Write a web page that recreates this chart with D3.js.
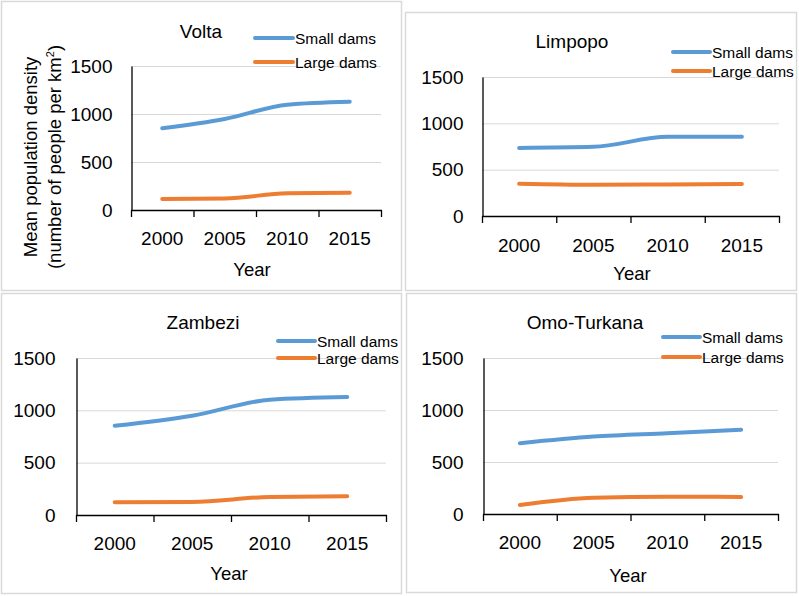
<!DOCTYPE html>
<html>
<head>
<meta charset="utf-8">
<script src="https://cdn.jsdelivr.net/npm/d3@7"></script>
<style>
  html, body { margin: 0; padding: 0; background: #fff; }
  svg { display: block; font-family: "Liberation Sans", Arial, sans-serif; }
</style>
</head>
<body>
<svg id="chart" width="799" height="596"></svg>
<script>
// ---- data ----
const years = ["2000", "2005", "2010", "2015"];
const yTicks = [0, 500, 1000, 1500];
const seriesNames = ["Small dams", "Large dams"];
const basinNames = ["Volta", "Limpopo", "Zambezi", "Omo-Turkana"];
const voltaSmall = [851, 948, 1097, 1128];
const voltaLarge = [115, 120, 174, 180];
const limpopoSmall = [735, 746, 854, 854];
const limpopoLarge = [348, 337, 340, 344];
const zambeziSmall = [852, 948, 1101, 1127];
const zambeziLarge = [121, 124, 172, 179];
const omoSmall = [681, 745, 777, 809];
const omoLarge = [87, 157, 167, 164];
const xTitle = "Year";
const yTitleLines = ["Mean population density", "(number of people per km", "2", ")"];

// ---- layout / style ----
const colors = ["#5B9BD5", "#ED7D31"];
const panels = [
  { name: basinNames[0], small: voltaSmall, large: voltaLarge,
    frame: [1.5, 1.5, 400, 289], ax: 131, ar: 381, top: 66, bottom: 210,
    title: [201, 31], leg: [255, 293, 295, 38, 62], yLabGap: 19, xLabY: 238, yearPos: [252, 269], yTitle: true },
  { name: basinNames[1], small: limpopoSmall, large: limpopoLarge,
    frame: [405.5, 12.5, 391, 278], ax: 482, ar: 779, top: 77, bottom: 216,
    title: [572, 41], leg: [673, 710, 712, 52, 71], yLabGap: 19, xLabY: 245, yearPos: [632, 273] },
  { name: basinNames[2], small: zambeziSmall, large: zambeziLarge,
    frame: [1.5, 293.5, 400, 300], ax: 76, ar: 386, top: 358, bottom: 515,
    title: [203, 322], leg: [278, 315, 317, 341, 358], yLabGap: 21, xLabY: 543, yearPos: [229, 573] },
  { name: basinNames[3], small: omoSmall, large: omoLarge,
    frame: [406.5, 293.5, 390, 299], ax: 483, ar: 778, top: 358, bottom: 514,
    title: [585, 322], leg: [663, 700, 702, 337, 357], yLabGap: 20, xLabY: 542, yearPos: [628, 575] }
];

const svg = d3.select("#chart");

panels.forEach(p => {
  const g = svg.append("g");
  // frame
  g.append("rect")
    .attr("x", p.frame[0]).attr("y", p.frame[1])
    .attr("width", p.frame[2]).attr("height", p.frame[3])
    .attr("fill", "none").attr("stroke", "#d9d9d9").attr("stroke-width", 1.5);

  const x = d3.scaleBand().domain(years).range([p.ax, p.ar]).paddingInner(0).paddingOuter(0);
  const y = d3.scaleLinear().domain([0, 1500]).range([p.bottom, p.top]);

  // gridlines
  g.append("g").selectAll("line").data(yTicks.filter(t => t > 0)).join("line")
    .attr("x1", p.ax).attr("x2", p.ar)
    .attr("y1", d => y(d) + 0.5).attr("y2", d => y(d) + 0.5)
    .attr("stroke", "#d9d9d9").attr("stroke-width", 1);

  // y axis
  const yAxis = d3.axisLeft(y).tickValues(yTicks).tickFormat(d3.format("d"))
    .tickSize(0).tickPadding(p.yLabGap);
  const ya = g.append("g").attr("transform", `translate(${p.ax + 0.5},0)`).call(yAxis);
  ya.select(".domain").attr("stroke", "#000").attr("stroke-width", 1.3);
  ya.selectAll("text").attr("font-size", 19).attr("fill", "#000")
    .attr("font-family", "'Liberation Sans', Arial, sans-serif");

  // x axis line + ticks at band boundaries
  const xa = g.append("g");
  xa.append("line").attr("x1", p.ax).attr("x2", p.ar + 1)
    .attr("y1", p.bottom + 0.5).attr("y2", p.bottom + 0.5)
    .attr("stroke", "#000").attr("stroke-width", 1.3);
  const bounds = years.map(d => x(d)).concat([x(years[years.length - 1]) + x.bandwidth()]);
  xa.selectAll("line.tick").data(bounds).join("line").attr("class", "tick")
    .attr("x1", d => d + 0.5).attr("x2", d => d + 0.5)
    .attr("y1", p.bottom).attr("y2", p.bottom + 7)
    .attr("stroke", "#000").attr("stroke-width", 1.3);
  xa.selectAll("text").data(years).join("text")
    .attr("x", d => x(d) + x.bandwidth() / 2).attr("y", p.xLabY)
    .attr("text-anchor", "middle").attr("dominant-baseline", "central")
    .attr("font-size", 19).attr("fill", "#000").text(d => d);

  // lines
  const line = d3.line()
    .x((d, i) => x(years[i]) + x.bandwidth() / 2)
    .y(d => y(d))
    .curve(d3.curveMonotoneX);
  [p.small, p.large].forEach((vals, k) => {
    g.append("path").datum(vals).attr("d", line)
      .attr("fill", "none").attr("stroke", colors[k]).attr("stroke-width", 4)
      .attr("stroke-linecap", "round").attr("stroke-linejoin", "round");
  });

  // title
  g.append("text").attr("x", p.title[0]).attr("y", p.title[1])
    .attr("text-anchor", "middle").attr("dominant-baseline", "central")
    .attr("font-size", 19).attr("fill", "#000").text(p.name);

  // legend
  seriesNames.forEach((s, k) => {
    const ly = p.leg[3 + k];
    g.append("line").attr("x1", p.leg[0]).attr("x2", p.leg[1])
      .attr("y1", ly).attr("y2", ly)
      .attr("stroke", colors[k]).attr("stroke-width", 4).attr("stroke-linecap", "round");
    g.append("text").attr("x", p.leg[2]).attr("y", ly)
      .attr("dominant-baseline", "central").attr("font-size", 15.5).attr("fill", "#000").text(s);
  });

  // x title
  g.append("text").attr("x", p.yearPos[0]).attr("y", p.yearPos[1])
    .attr("text-anchor", "middle").attr("dominant-baseline", "central")
    .attr("font-size", 18.5).attr("fill", "#000").text(xTitle);

  // y title
  if (p.yTitle) {
    const t = g.append("text").attr("transform", "translate(31,157) rotate(-90)")
      .attr("text-anchor", "middle").attr("font-size", 18.5).attr("fill", "#000");
    t.append("tspan").attr("x", 0).attr("dy", "0.35em").text(yTitleLines[0]);
    const t2 = t.append("tspan").attr("x", 0).attr("dy", "1.25em");
    t2.text(yTitleLines[1]);
    t.append("tspan").attr("font-size", 11).attr("dy", "-0.6em").text(yTitleLines[2]);
    t.append("tspan").attr("dy", "0.4em").text(yTitleLines[3]);
  }
});
</script>
</body>
</html>
